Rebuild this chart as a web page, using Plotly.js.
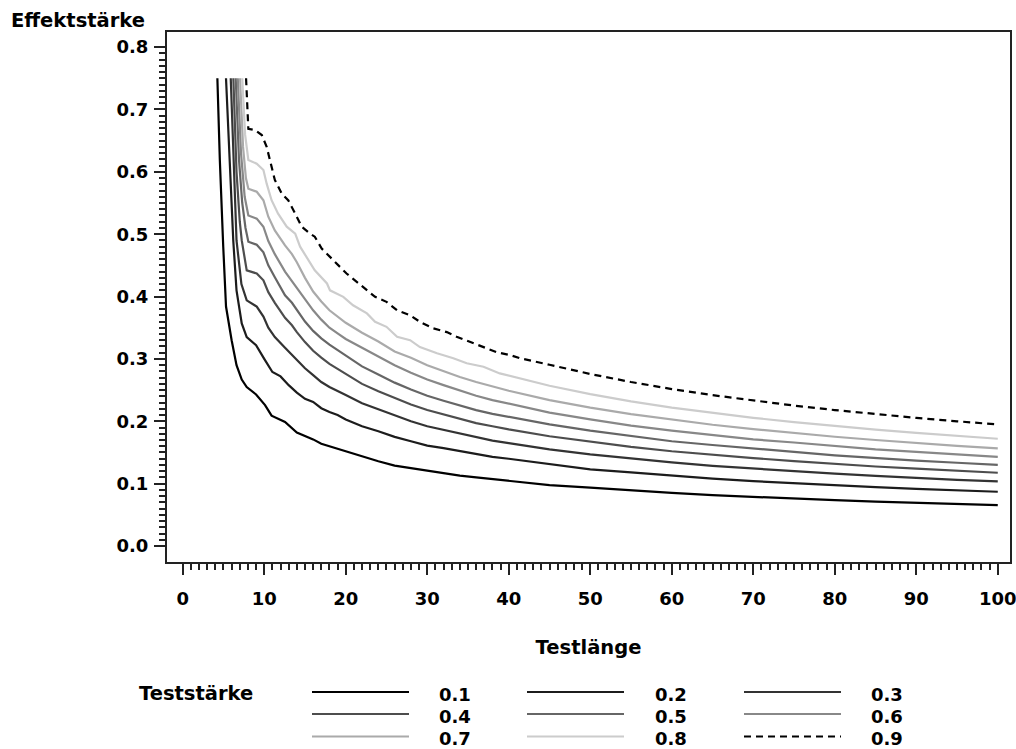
<!DOCTYPE html>
<html>
<head>
<meta charset="utf-8">
<script src="https://cdn.plot.ly/plotly-3.0.1.min.js"></script>
<style>html,body{margin:0;padding:0;background:#fff;}#chart{width:1016px;height:749px;}</style>
</head>
<body>
<div id="chart"></div>
<script>
// ---- data ----
const powers = ['0.1','0.2','0.3','0.4','0.5','0.6','0.7','0.8','0.9'];

const x01 = [4.25,4.55,4.97,5.31,6.0,6.6,7.24,7.85,9.0,10.1,10.9,12,12.55,14,15,16,17,18,19,20,22,24,26,28,30,32,34,36,38,40,45,50,55,60,65,70,75,80,85,90,95,100];
const y01 = [0.75,0.62,0.48,0.384,0.33,0.29,0.267,0.255,0.243,0.226,0.209,0.203,0.199,0.182,0.177,0.171,0.164,0.160,0.156,0.151,0.143,0.136,0.129,0.125,0.120,0.116,0.113,0.110,0.107,0.104,0.0977,0.0935,0.089,0.0852,0.0815,0.0785,0.0758,0.0735,0.0712,0.069,0.0672,0.0655];

const x02 = [5.31,5.8,6.2,6.6,7.24,7.85,9,10,11,12,13,14,15,16,17,18,19,20,22,24,26,28,30,32,34,36,38,40,45,50,55,60,65,70,75,80,85,90,95,100];
const y02 = [0.75,0.6,0.49,0.41,0.357,0.335,0.322,0.300,0.279,0.272,0.258,0.246,0.236,0.231,0.221,0.215,0.210,0.203,0.192,0.184,0.175,0.168,0.161,0.157,0.152,0.147,0.143,0.140,0.131,0.123,0.118,0.1125,0.108,0.104,0.1005,0.0973,0.0944,0.0917,0.0893,0.087];

const x03 = [5.89,6.25,6.6,7.2,7.85,9.08,9.9,10.5,11.3,12.55,13.4,14,15,16,17,18,19,20,22,24,26,28,30,32,34,36,38,40,45,50,55,60,65,70,75,80,85,90,95,100];
const y03 = [0.75,0.6,0.49,0.42,0.394,0.384,0.368,0.35,0.335,0.318,0.307,0.298,0.285,0.274,0.263,0.255,0.248,0.242,0.229,0.219,0.209,0.2,0.192,0.186,0.18,0.174,0.169,0.165,0.155,0.147,0.14,0.134,0.1285,0.124,0.1195,0.116,0.1125,0.109,0.106,0.1036];

const x04 = [6.21,6.6,7.0,7.24,7.85,9.08,9.9,10.5,11.3,12.55,13.4,14,15,16,17,18,19,20,22,24,26,28,30,32,34,36,38,40,45,50,55,60,65,70,75,80,85,90,95,100];
const y04 = [0.75,0.6,0.52,0.49,0.442,0.437,0.426,0.407,0.39,0.366,0.354,0.343,0.327,0.313,0.302,0.292,0.284,0.276,0.26,0.248,0.237,0.227,0.218,0.211,0.204,0.197,0.192,0.187,0.176,0.167,0.159,0.152,0.146,0.141,0.136,0.1315,0.1275,0.124,0.1205,0.1175];

const x05 = [6.5,6.9,7.3,7.7,8.05,9.08,9.9,10.5,11.3,12.55,13.4,14,15,16,17,18,19,20,22,24,26,28,30,32,34,36,38,40,45,50,55,60,65,70,75,80,85,90,95,100];
const y05 = [0.75,0.62,0.55,0.51,0.488,0.483,0.471,0.45,0.431,0.402,0.39,0.378,0.36,0.345,0.333,0.323,0.314,0.305,0.288,0.275,0.262,0.251,0.241,0.233,0.225,0.218,0.212,0.207,0.195,0.185,0.176,0.168,0.162,0.156,0.151,0.1455,0.141,0.137,0.1335,0.130];

const x06 = [6.75,7.15,7.6,8.05,9.08,9.9,10.5,11.3,12.55,13.4,14,15,16,17,18,19,20,22,24,26,28,30,32,34,36,38,40,45,50,55,60,65,70,75,80,85,90,95,100];
const y06 = [0.75,0.63,0.56,0.53,0.525,0.512,0.489,0.468,0.44,0.425,0.414,0.395,0.378,0.363,0.35,0.341,0.332,0.318,0.304,0.290,0.278,0.267,0.258,0.249,0.241,0.234,0.228,0.214,0.203,0.193,0.185,0.178,0.171,0.166,0.160,0.155,0.151,0.147,0.143];

const x07 = [7.03,7.4,7.75,8.05,9.08,9.9,10.5,11.3,12.55,13.4,14,15,16,17,18,19,20,22,24,26,28,30,32,34,36,38,40,45,50,55,60,65,70,75,80,85,90,95,100];
const y07 = [0.75,0.64,0.59,0.573,0.568,0.5545,0.528,0.506,0.482,0.468,0.455,0.43,0.408,0.392,0.378,0.368,0.358,0.342,0.328,0.312,0.302,0.29,0.28,0.271,0.263,0.256,0.249,0.234,0.222,0.2115,0.2025,0.1945,0.1875,0.181,0.1752,0.17,0.165,0.1607,0.1565];

const x08 = [7.3,7.65,8.05,9.08,9.9,10.3,10.9,11.7,12.76,13.8,14.4,15.2,16.2,17.7,18.07,19.7,20.9,22.6,23.6,25,26.3,27.9,29.1,31.2,33.2,34.85,36.9,38.9,40.6,45,50,55,60,65,70,75,80,85,90,95,100];
const y08 = [0.75,0.66,0.619,0.613,0.603,0.581,0.5545,0.533,0.512,0.501,0.48,0.4636,0.442,0.421,0.41,0.3995,0.386,0.373,0.3595,0.3515,0.3355,0.33,0.319,0.309,0.301,0.293,0.2874,0.2768,0.2714,0.257,0.2435,0.232,0.222,0.2133,0.2056,0.1986,0.1923,0.1866,0.1813,0.1765,0.172];

const x09 = [7.77,7.9,8.05,8.87,9.7,10.3,11.3,12.15,12.96,13.8,14.6,15.6,16.2,17.05,18.9,20.1,21.35,22.6,23.6,25,26.3,27.9,29.1,30.75,32.4,33.6,35.25,36.9,38.5,40.2,41.4,45,50,55,60,65,70,75,80,85,90,95,100];
const y09 = [0.75,0.70,0.669,0.667,0.659,0.64,0.587,0.565,0.554,0.533,0.512,0.501,0.496,0.477,0.453,0.437,0.4236,0.41,0.3995,0.3915,0.378,0.37,0.3595,0.349,0.343,0.3355,0.3274,0.319,0.311,0.306,0.301,0.2907,0.2758,0.263,0.2517,0.2419,0.2331,0.2252,0.218,0.2115,0.2055,0.200,0.195];

const xTickVals = [0,10,20,30,40,50,60,70,80,90,100];
const yTickVals = [0.0,0.1,0.2,0.3,0.4,0.5,0.6,0.7,0.8];

// ---- styles ----
const lineColors = ['#000000','#1c1c1c','#333333','#4d4d4d','#666666','#888888','#aaaaaa','#cccccc','#000000'];
const lineDash   = ['solid','solid','solid','solid','solid','solid','solid','solid','7px,5px'];

const xs = [x01,x02,x03,x04,x05,x06,x07,x08,x09];
const ys = [y01,y02,y03,y04,y05,y06,y07,y08,y09];

const traces = powers.map((p, i) => ({
  type: 'scatter', mode: 'lines', name: p,
  x: xs[i], y: ys[i],
  line: {color: lineColors[i], width: 2.2, dash: lineDash[i]},
  showlegend: false, hoverinfo: 'skip'
}));

// plot area in pixels
const L = 167, R = 1010, T = 32, B = 562;
const pxX = v => (v - L) / (R - L);
const pxY = v => (B - v) / (B - T);

const FONT = 'DejaVu Sans, Arial, sans-serif';
const tf = {family: FONT, size: 18, color: '#000', weight: 'bold'};
const wf = {family: FONT, size: 19.5, color: '#000', weight: 'bold'};

const xMinor = []; for (let v = 1; v < 100; v++) if (v % 10) xMinor.push(v);
const yMinor = []; for (let k = 1; k < 80; k++) if (k % 10) yMinor.push(k / 100);

// custom legend
const colLineX = [312, 527, 744];
const colLabelX = [437, 653, 869];
const rowY = [692, 714, 736.5];
const shapes = [];
const annotations = [
  {text: 'Effektstärke', xref: 'paper', yref: 'paper', x: pxX(9), y: pxY(20), xanchor: 'left', yanchor: 'middle', showarrow: false, font: wf},
  {text: 'Teststärke', xref: 'paper', yref: 'paper', x: pxX(137), y: pxY(693), xanchor: 'left', yanchor: 'middle', showarrow: false, font: wf}
];
powers.forEach((p, i) => {
  const c = i % 3, r = Math.floor(i / 3);
  shapes.push({type: 'line', xref: 'paper', yref: 'paper',
    x0: pxX(colLineX[c]), x1: pxX(colLineX[c] + 97), y0: pxY(rowY[r]), y1: pxY(rowY[r]),
    line: {color: lineColors[i], width: 2.2, dash: lineDash[i]}});
  annotations.push({text: p, xref: 'paper', yref: 'paper', x: pxX(colLabelX[c]), y: pxY(rowY[r] + 2),
    xanchor: 'left', yanchor: 'middle', showarrow: false, font: tf});
});

const layout = {
  width: 1016, height: 749,
  margin: {l: L, r: 1016 - R, t: T, b: 749 - B, pad: 0},
  paper_bgcolor: '#fff', plot_bgcolor: '#fff',
  showlegend: false,
  xaxis: {
    range: [-1.93, 101.5], tickmode: 'array', tickvals: xTickVals, ticktext: xTickVals.map(String),
    ticks: 'outside', ticklen: 11, tickwidth: 2, tickcolor: '#222',
    showline: true, mirror: true, linecolor: '#222', linewidth: 2,
    showgrid: false, zeroline: false, tickfont: tf, ticklabelstandoff: 8,
    ticklabeloverflow: 'allow',
    minor: {tickmode: 'array', tickvals: xMinor, ticks: 'outside', ticklen: 6, tickwidth: 2, tickcolor: '#222', showgrid: false},
    title: {text: 'Testlänge', font: wf, standoff: 33}
  },
  yaxis: {
    range: [-0.0256, 0.8242], tickmode: 'array', tickvals: yTickVals, ticktext: yTickVals.map(v => v.toFixed(1)),
    ticks: 'outside', ticklen: 11, tickwidth: 2, tickcolor: '#222',
    showline: true, mirror: true, linecolor: '#222', linewidth: 2,
    showgrid: false, zeroline: false, tickfont: tf, ticklabelstandoff: 2,
    ticklabeloverflow: 'allow',
    minor: {tickmode: 'array', tickvals: yMinor, ticks: 'outside', ticklen: 6, tickwidth: 2, tickcolor: '#222', showgrid: false}
  },
  shapes: shapes,
  annotations: annotations
};

Plotly.newPlot('chart', traces, layout, {staticPlot: true, displayModeBar: false});
</script>
</body>
</html>
